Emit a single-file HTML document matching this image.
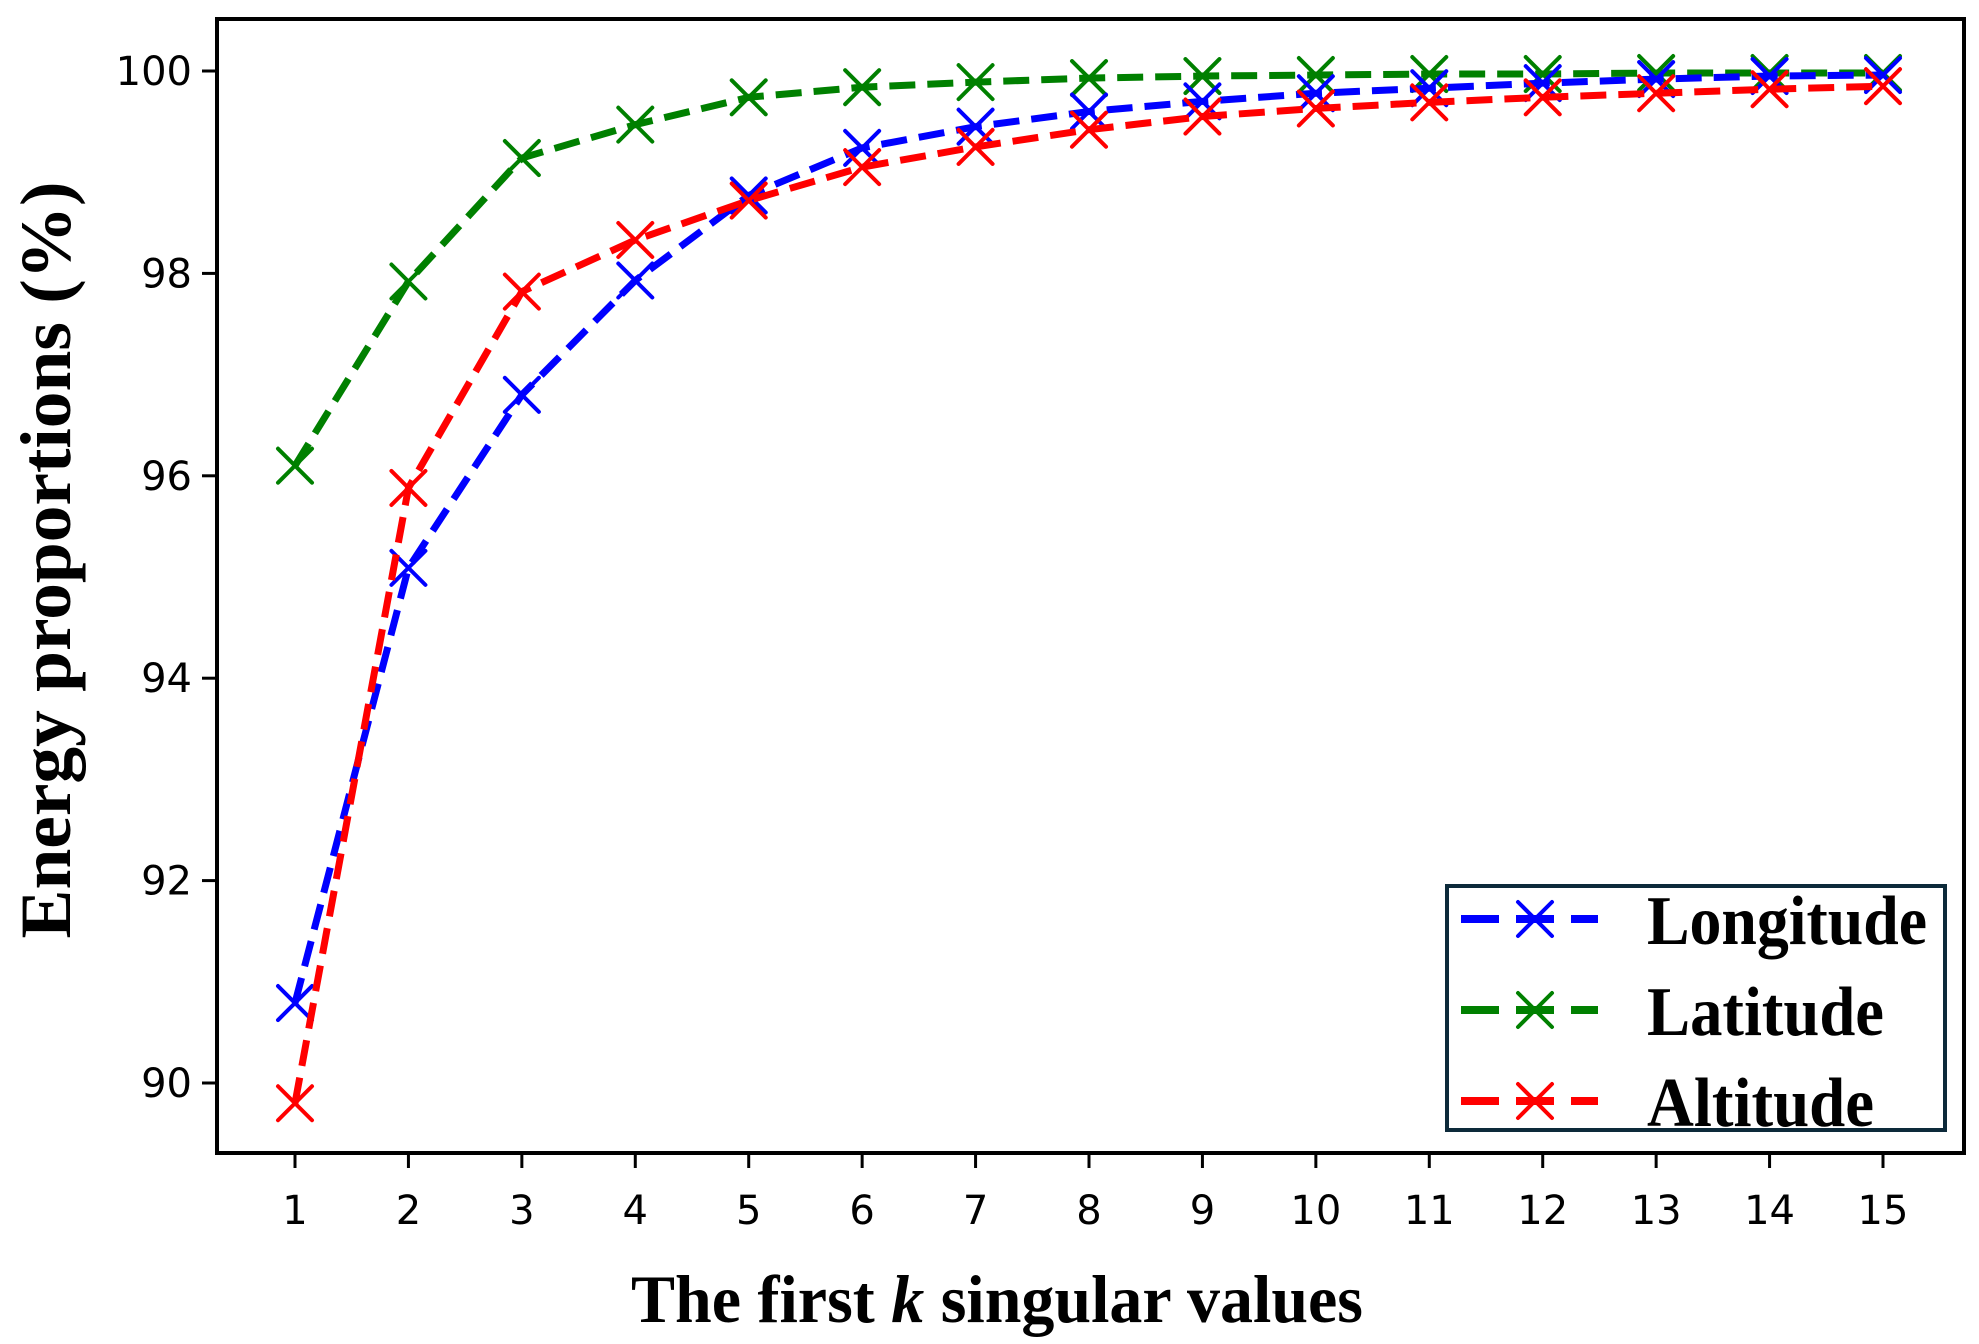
<!DOCTYPE html>
<html><head><meta charset="utf-8"><style>
html,body{margin:0;padding:0;background:#fff;}
svg{display:block;}
</style></head><body>
<svg id="chart" width="1979" height="1344" xmlns="http://www.w3.org/2000/svg">
<rect x="0" y="0" width="1979" height="1344" fill="#fff"/>
<g id="plot"></g>
<rect x="217" y="19" width="1747" height="1134" fill="none" stroke="#000" stroke-width="4"/>
<g id="xticks"></g>
<g id="yticks"></g>
<text x="997" y="1322" text-anchor="middle" font-family="Liberation Serif, serif" font-weight="bold" font-size="68" textLength="732" lengthAdjust="spacingAndGlyphs">The first <tspan font-style="italic">k</tspan> singular values</text>
<text transform="translate(70,560) rotate(-90)" text-anchor="middle" font-family="Liberation Serif, serif" font-weight="bold" font-size="72" textLength="757" lengthAdjust="spacingAndGlyphs">Energy proportions (%)</text>
<g id="legend">
<rect x="1447" y="886" width="498" height="244" fill="#fff" stroke="#0d2a3a" stroke-width="4"/>
</g>
</svg>
<script>
const categories = [1,2,3,4,5,6,7,8,9,10,11,12,13,14,15];
const longitude = [90.79,95.09,96.8,97.93,98.77,99.24,99.45,99.6,99.7,99.78,99.83,99.88,99.92,99.95,99.96];
const latitude = [96.1,97.92,99.14,99.47,99.74,99.84,99.89,99.93,99.95,99.96,99.97,99.97,99.98,99.98,99.98];
const altitude = [89.8,95.88,97.82,98.33,98.72,99.05,99.25,99.42,99.55,99.63,99.69,99.74,99.78,99.82,99.85];
const yTicks = [90,92,94,96,98,100];
const seriesNames = ["Longitude","Latitude","Altitude"];

const NS="http://www.w3.org/2000/svg";
const xS = v => 295 + (v-1)*(1883-295)/14;
const yS = v => 71 + (100-v)*101.2;
function mk(tag, attrs, parent){const e=document.createElementNS(NS,tag);for(const k in attrs)e.setAttribute(k,attrs[k]);parent.appendChild(e);return e;}
const plot=document.getElementById('plot'), xt=document.getElementById('xticks'), yt=document.getElementById('yticks'), lg=document.getElementById('legend');

categories.forEach(c=>{
  const t=mk('line',{x1:xS(c),x2:xS(c),y1:1153,y2:1168,stroke:'#000','stroke-width':3},xt);
  
  
  const l=mk('text',{x:xS(c),y:1224,'text-anchor':'middle','font-family':'DejaVu Sans, Liberation Sans, sans-serif','font-size':40},xt);
  l.textContent=c;
  
  
});
yTicks.forEach(v=>{
  const t=mk('line',{x1:202,x2:217,y1:yS(v),y2:yS(v),stroke:'#000','stroke-width':3},yt);
  
  
  const l=mk('text',{x:192,y:yS(v)+14,'text-anchor':'end','font-family':'DejaVu Sans, Liberation Sans, sans-serif','font-size':40},yt);
  l.textContent=v;
  
  
});

const colors=['#0000ff','#008000','#ff0000'];
const datas=[longitude,latitude,altitude];
function marker(x,y,col,g){
  const s=17;
  mk('path',{d:`M${x-s},${y-s}L${x+s},${y+s}M${x-s},${y+s}L${x+s},${y-s}`,stroke:col,'stroke-width':4,fill:'none','stroke-linecap':'round'},g);
}
const order=[1,0,2];
order.forEach(i=>{
  const g=mk('g',{},plot);
  
  
  const pts=categories.map((c,j)=>xS(c)+','+yS(datas[i][j])).join(' ');
  const pl=mk('polyline',{points:pts,fill:'none',stroke:colors[i],'stroke-width':7,'stroke-dasharray':'26 12'},g);
  
  
  categories.forEach((c,j)=>marker(xS(c),yS(datas[i][j]),colors[i],g));
});

const legendWidths=[280,237,227];
seriesNames.forEach((n,i)=>{
  const y=919+i*91;
  const g=mk('g',{},lg);
  
  
  mk('line',{x1:1461,x2:1499,y1:y,y2:y,stroke:colors[i],'stroke-width':8},g);
  mk('line',{x1:1516,x2:1554,y1:y,y2:y,stroke:colors[i],'stroke-width':8},g);
  mk('line',{x1:1571,x2:1598,y1:y,y2:y,stroke:colors[i],'stroke-width':8},g);
  marker(1535,y,colors[i],g);
  const t=mk('text',{x:1647,y:y+25,'font-family':'Liberation Serif, serif','font-weight':'bold','font-size':70,textLength:legendWidths[i],lengthAdjust:'spacingAndGlyphs'},g);
  t.textContent=n;
});
</script>
</body></html>
